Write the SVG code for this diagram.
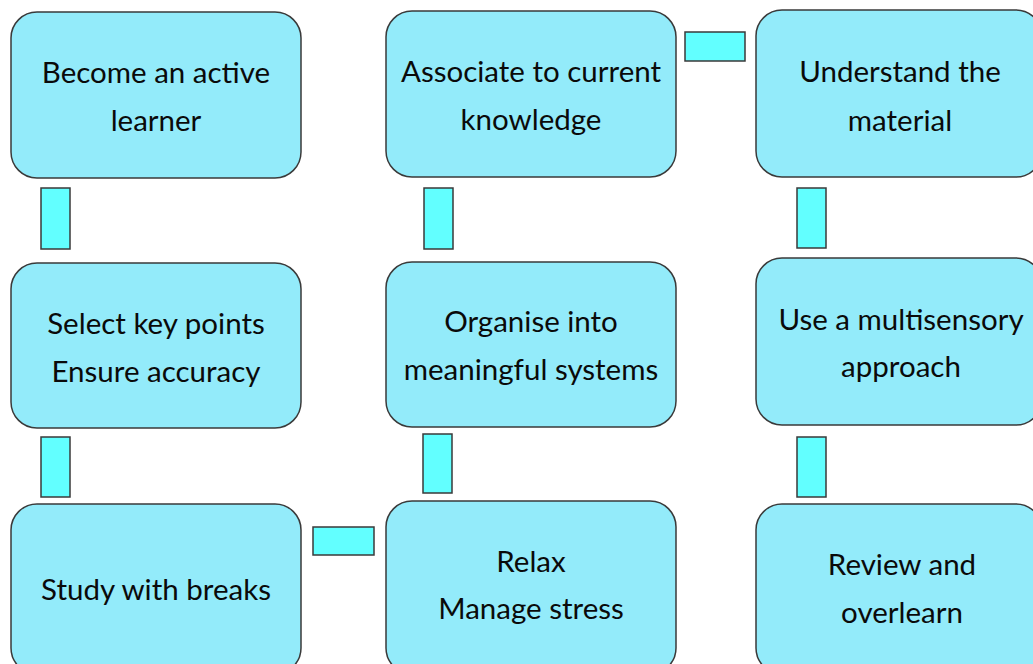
<svg xmlns="http://www.w3.org/2000/svg" width="1033" height="664" viewBox="0 0 1033 664">
  <style>
    .box { fill: #93ebfa; stroke: #3a3a3a; stroke-width: 1.5; }
    .link { fill: #62ffff; stroke: #3a3a3a; stroke-width: 1.5; }
    .label { font-family: Lato, "Open Sans", sans-serif; font-size: 29.5px; fill: #0a0a0a; text-anchor: middle; }
  </style>
  <rect width="1033" height="664" fill="#ffffff"/>

  <!-- connector blocks between steps -->
  <g id="connectors">
    <rect class="link" x="41" y="188" width="29" height="61"/>
    <rect class="link" x="41" y="437" width="29" height="60"/>
    <rect class="link" x="424" y="188" width="29" height="61"/>
    <rect class="link" x="423" y="434" width="29" height="59"/>
    <rect class="link" x="797" y="188" width="29" height="60"/>
    <rect class="link" x="797" y="437" width="29" height="60"/>
    <rect class="link" x="685" y="32" width="60" height="29"/>
    <rect class="link" x="313" y="527" width="61" height="28"/>
  </g>

  <g id="n-active-learner">
    <rect class="box" x="11" y="12" width="290" height="166" rx="26"/>
    <text class="label" x="156" y="83">Become an active</text>
    <text class="label" x="156" y="131">learner</text>
  </g>
  <g id="n-associate">
    <rect class="box" x="386" y="11" width="290" height="166" rx="26"/>
    <text class="label" x="531" y="82">Associate to current</text>
    <text class="label" x="531" y="130">knowledge</text>
  </g>
  <g id="n-understand">
    <rect class="box" x="756" y="10" width="286" height="167" rx="26"/>
    <text class="label" x="900" y="82">Understand the</text>
    <text class="label" x="900" y="131">material</text>
  </g>
  <g id="n-select">
    <rect class="box" x="11" y="263" width="290" height="165" rx="26"/>
    <text class="label" x="156" y="334">Select key points</text>
    <text class="label" x="156" y="382">Ensure accuracy</text>
  </g>
  <g id="n-organise">
    <rect class="box" x="386" y="262" width="290" height="165" rx="26"/>
    <text class="label" x="531" y="332">Organise into</text>
    <text class="label" x="531" y="380">meaningful systems</text>
  </g>
  <g id="n-multisensory">
    <rect class="box" x="756" y="258" width="286" height="167" rx="26"/>
    <text class="label" x="901" y="330">Use a multisensory</text>
    <text class="label" x="901" y="377">approach</text>
  </g>
  <g id="n-breaks">
    <rect class="box" x="11" y="504" width="290" height="170" rx="26"/>
    <text class="label" x="156" y="600">Study with breaks</text>
  </g>
  <g id="n-relax">
    <rect class="box" x="386" y="501" width="290" height="173" rx="26"/>
    <text class="label" x="531" y="572">Relax</text>
    <text class="label" x="531" y="619">Manage stress</text>
  </g>
  <g id="n-review">
    <rect class="box" x="756" y="504" width="286" height="170" rx="26"/>
    <text class="label" x="902" y="575">Review and</text>
    <text class="label" x="902" y="623">overlearn</text>
  </g>
</svg>
